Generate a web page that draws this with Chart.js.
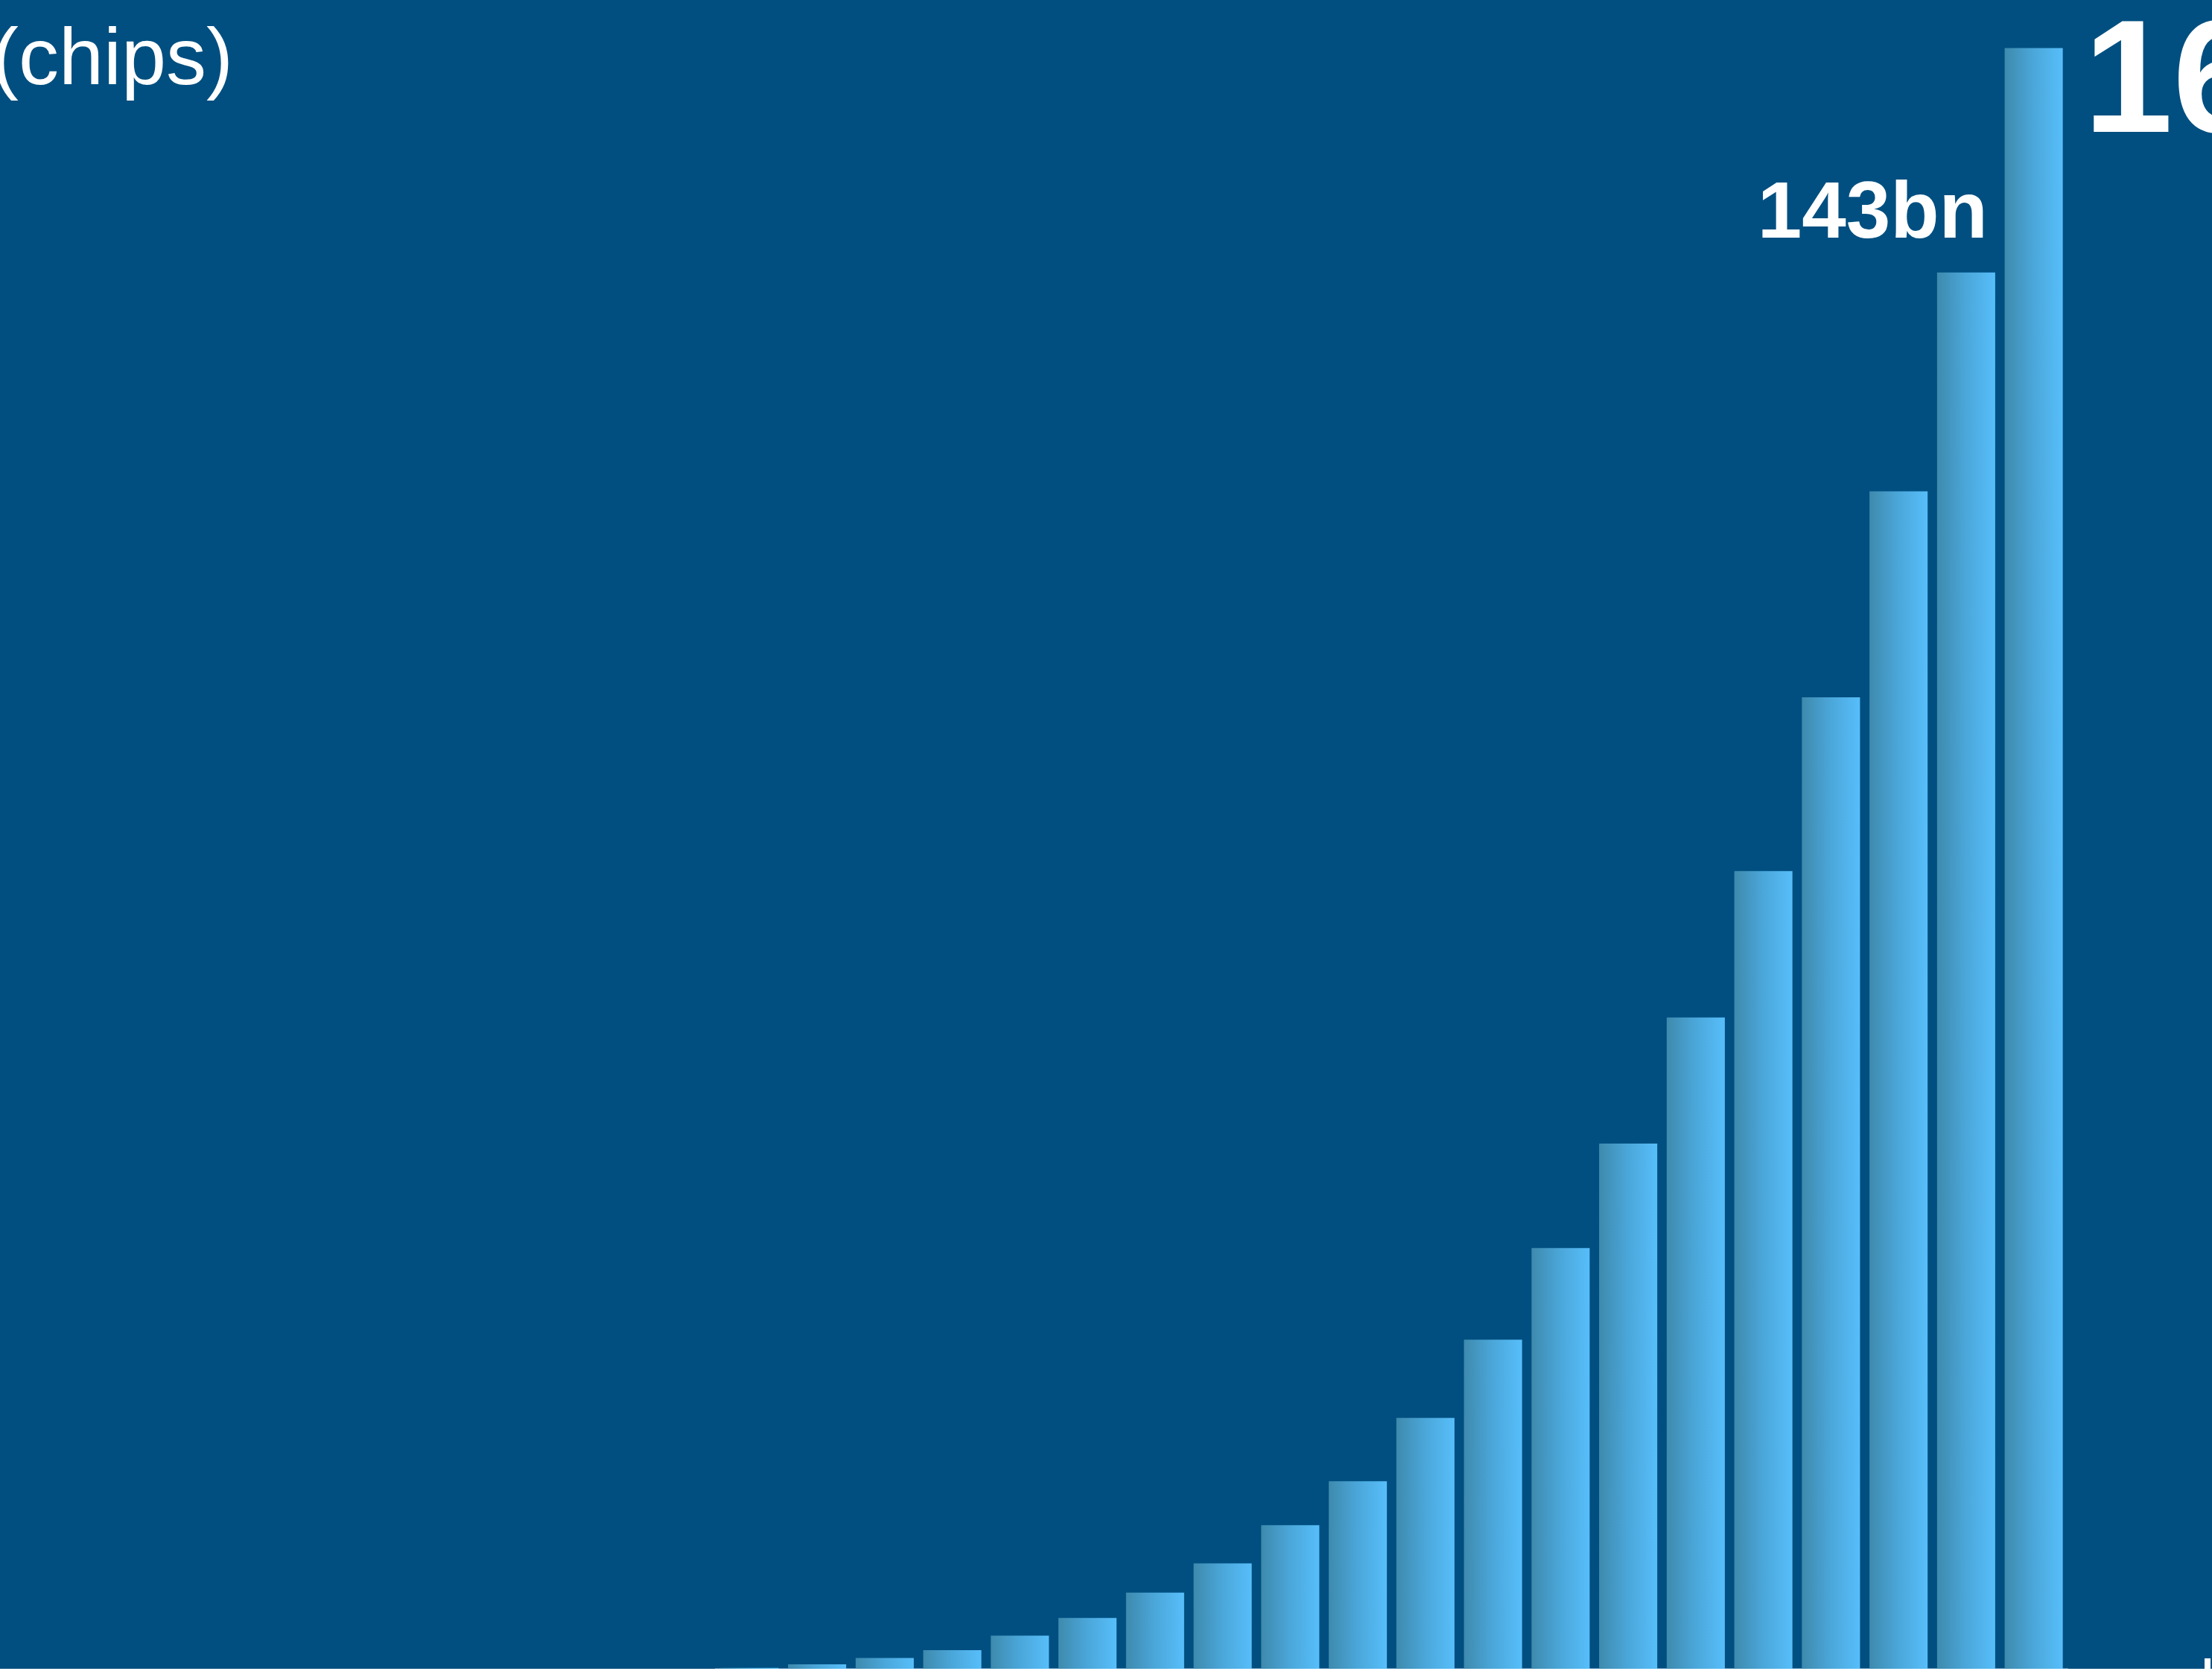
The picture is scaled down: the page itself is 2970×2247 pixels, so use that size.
<!DOCTYPE html>
<html>
<head>
<meta charset="utf-8">
<script src="https://cdn.jsdelivr.net/npm/chart.js@4"></script>
<style>
  html, body { margin: 0; padding: 0; background: #ffffff; overflow: hidden; }
  #wrap { position: absolute; left: 0; top: 0; width: 2970px; height: 2240px; background: #004f80; }
  #edge { position: absolute; left: 2960px; top: 2226px; width: 8px; height: 21px; background: #ffffff; }
  canvas { display: block; }
</style>
</head>
<body>
<div id="wrap"><canvas id="c" width="2970" height="2240"></canvas></div>
<div id="edge"></div>
<script>
// Data (values in billions of chips)
const categories = ["1","2","3","4","5","6","7","8","9","10","11","12","13","14","15","16","17","18","19","20"];
const chipsBn = [0.1, 0.45, 1.1, 1.9, 3.4, 5.2, 7.8, 10.8, 14.7, 19.2, 25.7, 33.7, 43.1, 53.8, 66.7, 81.7, 99.5, 120.6, 143, 166];
const unitTitle = "(chips)";
const labelledIndex = 18;   // "143bn"
const headlineIndex = 19;   // large headline value

const BAR_LEFT = '#3e8aad';
const BAR_RIGHT = '#57befa';
const BAR_PCT = 0.86;

function barGradient(ctx) {
  const chart = ctx.chart;
  if (!chart.chartArea || ctx.type !== 'data') return BAR_RIGHT;
  const xs = chart.scales.x;
  const cx = xs.getPixelForValue(ctx.dataIndex);
  const half = xs.width / chart.data.labels.length * BAR_PCT / 2;
  const g = chart.ctx.createLinearGradient(cx - half, 0, cx + half, 0);
  g.addColorStop(0, BAR_LEFT);
  g.addColorStop(0.5, '#4ba7da');
  g.addColorStop(1, BAR_RIGHT);
  return g;
}

const textPlugin = {
  id: 'texts',
  afterDatasetsDraw(chart) {
    const ctx = chart.ctx;
    const meta = chart.getDatasetMeta(0);
    ctx.save();
    ctx.fillStyle = '#ffffff';
    ctx.textBaseline = 'alphabetic';
    // unit title
    ctx.font = '108px "Liberation Sans", Arial, sans-serif';
    ctx.textAlign = 'left';
    ctx.fillText(unitTitle, -11, 113);
    // value label above bar
    const b1 = meta.data[labelledIndex];
    ctx.font = 'bold 107px "Liberation Sans", Arial, sans-serif';
    ctx.textAlign = 'right';
    ctx.fillText(Math.round(chipsBn[labelledIndex]) + 'bn', b1.x + 29, b1.y - 47);
    // headline value to the right of last bar
    const b2 = meta.data[headlineIndex];
    ctx.font = 'bold 215px "Liberation Sans", Arial, sans-serif';
    ctx.textAlign = 'left';
    ctx.fillText(Math.round(chipsBn[headlineIndex]) + 'bn', b2.x + b2.width / 2 + 28, 177);
    ctx.restore();
  }
};

new Chart(document.getElementById('c'), {
  type: 'bar',
  data: {
    labels: categories,
    datasets: [{
      data: chipsBn,
      backgroundColor: barGradient,
      borderWidth: 0,
      barPercentage: BAR_PCT,
      categoryPercentage: 1.0
    }]
  },
  options: {
    responsive: false,
    animation: false,
    devicePixelRatio: 1,
    layout: { padding: { left: 961, right: 194, top: 12, bottom: 0 } },
    plugins: { legend: { display: false }, tooltip: { enabled: false }, title: { display: false } },
    scales: {
      x: {
        display: true,
        grid: { display: false, drawTicks: false },
        ticks: { display: false },
        border: { display: true, color: '#4a86ad', width: 2 }
      },
      y: {
        display: false,
        min: 0,
        max: 170
      }
    }
  },
  plugins: [textPlugin]
});
</script>
</body>
</html>
